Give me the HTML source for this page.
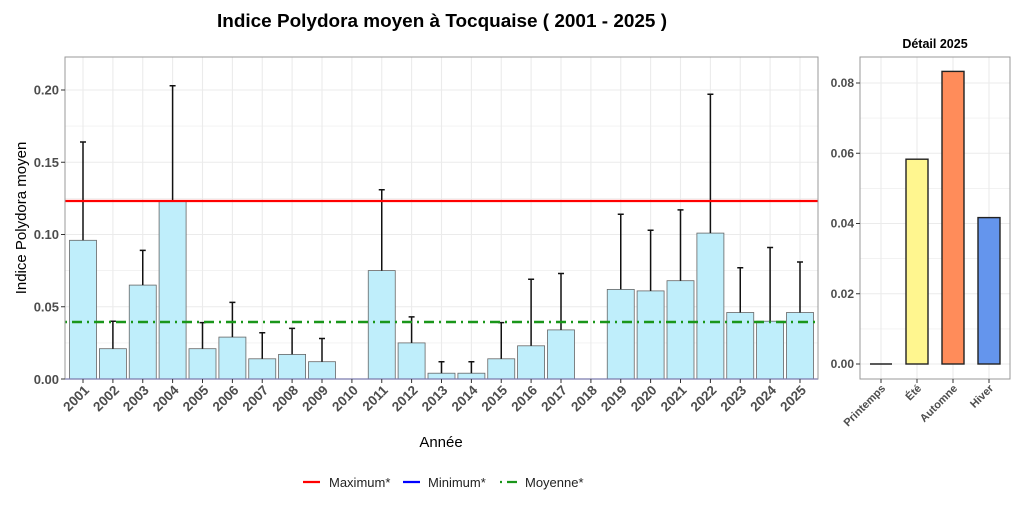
<!DOCTYPE html>
<html><head><meta charset="utf-8"><style>
body{margin:0;background:#fff;}
svg{display:block;font-family:"Liberation Sans",sans-serif;}
</style></head><body>
<svg width="1024" height="512" viewBox="0 0 1024 512" xmlns="http://www.w3.org/2000/svg">
<rect width="1024" height="512" fill="#fff"/>
<text x="442" y="27" text-anchor="middle" font-size="18" font-weight="bold" fill="#000" textLength="450" lengthAdjust="spacingAndGlyphs">Indice Polydora moyen à Tocquaise ( 2001 - 2025 )</text>

<g stroke="#ebebeb" stroke-width="0.6">
<line x1="65" x2="818" y1="342.9" y2="342.9"/><line x1="65" x2="818" y1="270.6" y2="270.6"/><line x1="65" x2="818" y1="198.4" y2="198.4"/><line x1="65" x2="818" y1="126.1" y2="126.1"/>
</g>
<g stroke="#ebebeb" stroke-width="1.1">
<line x1="65" x2="818" y1="306.75" y2="306.75"/><line x1="65" x2="818" y1="234.5" y2="234.5"/><line x1="65" x2="818" y1="162.25" y2="162.25"/><line x1="65" x2="818" y1="90" y2="90"/>
<line x1="83" x2="83" y1="57" y2="379"/><line x1="112.9" x2="112.9" y1="57" y2="379"/><line x1="142.75" x2="142.75" y1="57" y2="379"/><line x1="172.6" x2="172.6" y1="57" y2="379"/><line x1="202.5" x2="202.5" y1="57" y2="379"/><line x1="232.4" x2="232.4" y1="57" y2="379"/><line x1="262.25" x2="262.25" y1="57" y2="379"/><line x1="292.1" x2="292.1" y1="57" y2="379"/><line x1="322" x2="322" y1="57" y2="379"/><line x1="351.9" x2="351.9" y1="57" y2="379"/><line x1="381.75" x2="381.75" y1="57" y2="379"/><line x1="411.6" x2="411.6" y1="57" y2="379"/><line x1="441.5" x2="441.5" y1="57" y2="379"/><line x1="471.4" x2="471.4" y1="57" y2="379"/><line x1="501.25" x2="501.25" y1="57" y2="379"/><line x1="531.1" x2="531.1" y1="57" y2="379"/><line x1="561" x2="561" y1="57" y2="379"/><line x1="590.9" x2="590.9" y1="57" y2="379"/><line x1="620.75" x2="620.75" y1="57" y2="379"/><line x1="650.6" x2="650.6" y1="57" y2="379"/><line x1="680.5" x2="680.5" y1="57" y2="379"/><line x1="710.4" x2="710.4" y1="57" y2="379"/><line x1="740.25" x2="740.25" y1="57" y2="379"/><line x1="770.1" x2="770.1" y1="57" y2="379"/><line x1="800" x2="800" y1="57" y2="379"/>
</g>

<g fill="#bfeefb" stroke="#666" stroke-width="0.8">
<rect x="69.5" y="240.3" width="27" height="138.7"/>
<rect x="99.4" y="348.7" width="27" height="30.3"/>
<rect x="129.25" y="285.1" width="27" height="93.9"/>
<rect x="159.1" y="201.3" width="27" height="177.7"/>
<rect x="189" y="348.7" width="27" height="30.3"/>
<rect x="218.9" y="337.1" width="27" height="41.9"/>
<rect x="248.75" y="358.8" width="27" height="20.2"/>
<rect x="278.6" y="354.4" width="27" height="24.6"/>
<rect x="308.5" y="361.7" width="27" height="17.3"/>
<rect x="368.25" y="270.6" width="27" height="108.4"/>
<rect x="398.1" y="342.9" width="27" height="36.1"/>
<rect x="428" y="373.2" width="27" height="5.8"/>
<rect x="457.9" y="373.2" width="27" height="5.8"/>
<rect x="487.75" y="358.8" width="27" height="20.2"/>
<rect x="517.6" y="345.8" width="27" height="33.2"/>
<rect x="547.5" y="329.9" width="27" height="49.1"/>
<rect x="607.25" y="289.4" width="27" height="89.6"/>
<rect x="637.1" y="290.9" width="27" height="88.1"/>
<rect x="667" y="280.7" width="27" height="98.3"/>
<rect x="696.9" y="233.1" width="27" height="145.9"/>
<rect x="726.75" y="312.5" width="27" height="66.5"/>
<rect x="756.6" y="321.2" width="27" height="57.8"/>
<rect x="786.5" y="312.5" width="27" height="66.5"/>
</g>

<g stroke="#111" stroke-width="1.5" fill="none">
<path d="M83 240.3V142M80 142h6"/>
<path d="M112.9 348.7V321.2M109.9 321.2h6"/>
<path d="M142.75 285.1V250.4M139.75 250.4h6"/>
<path d="M172.6 201.3V85.7M169.6 85.7h6"/>
<path d="M202.5 348.7V322.6M199.5 322.6h6"/>
<path d="M232.4 337.1V302.4M229.4 302.4h6"/>
<path d="M262.25 358.8V332.8M259.25 332.8h6"/>
<path d="M292.1 354.4V328.4M289.1 328.4h6"/>
<path d="M322 361.7V338.5M319 338.5h6"/>
<path d="M381.75 270.6V189.7M378.75 189.7h6"/>
<path d="M411.6 342.9V316.9M408.6 316.9h6"/>
<path d="M441.5 373.2V361.7M438.5 361.7h6"/>
<path d="M471.4 373.2V361.7M468.4 361.7h6"/>
<path d="M501.25 358.8V322.6M498.25 322.6h6"/>
<path d="M531.1 345.8V279.3M528.1 279.3h6"/>
<path d="M561 329.9V273.5M558 273.5h6"/>
<path d="M620.75 289.4V214.3M617.75 214.3h6"/>
<path d="M650.6 290.9V230.2M647.6 230.2h6"/>
<path d="M680.5 280.7V209.9M677.5 209.9h6"/>
<path d="M710.4 233.1V94.3M707.4 94.3h6"/>
<path d="M740.25 312.5V267.7M737.25 267.7h6"/>
<path d="M770.1 321.2V247.5M767.1 247.5h6"/>
<path d="M800 312.5V262M797 262h6"/>
</g>

<line x1="65" x2="818" y1="201" y2="201" stroke="#ff0000" stroke-width="2.2"/>
<line x1="65" x2="818" y1="379" y2="379" stroke="#0000ff" stroke-width="1.2"/>
<line x1="65" x2="818" y1="322" y2="322" stroke="#1a961a" stroke-width="2.4" stroke-dasharray="2,5,10,5"/>

<rect x="65" y="57" width="753" height="322" fill="none" stroke="#999" stroke-width="1"/>

<g stroke="#333" stroke-width="1">
<line x1="61" x2="65" y1="379" y2="379"/><line x1="61" x2="65" y1="306.75" y2="306.75"/><line x1="61" x2="65" y1="234.5" y2="234.5"/><line x1="61" x2="65" y1="162.25" y2="162.25"/><line x1="61" x2="65" y1="90" y2="90"/>
</g>
<g font-size="13" font-weight="bold" fill="#4d4d4d" text-anchor="end">
<text x="59" y="384">0.00</text><text x="59" y="311.5">0.05</text><text x="59" y="239">0.10</text><text x="59" y="167">0.15</text><text x="59" y="94.5">0.20</text>
</g>
<text transform="translate(26,218) rotate(-90)" text-anchor="middle" font-size="15" fill="#000">Indice Polydora moyen</text>

<g stroke="#333" stroke-width="1">
<path d="M83 379v4M112.9 379v4M142.75 379v4M172.6 379v4M202.5 379v4M232.4 379v4M262.25 379v4M292.1 379v4M322 379v4M351.9 379v4M381.75 379v4M411.6 379v4M441.5 379v4M471.4 379v4M501.25 379v4M531.1 379v4M561 379v4M590.9 379v4M620.75 379v4M650.6 379v4M680.5 379v4M710.4 379v4M740.25 379v4M770.1 379v4M800 379v4"/>
</g>
<g font-size="13.5" font-weight="bold" fill="#4d4d4d" text-anchor="end">
<text transform="translate(90,391) rotate(-45)">2001</text>
<text transform="translate(119.9,391) rotate(-45)">2002</text>
<text transform="translate(149.75,391) rotate(-45)">2003</text>
<text transform="translate(179.6,391) rotate(-45)">2004</text>
<text transform="translate(209.5,391) rotate(-45)">2005</text>
<text transform="translate(239.4,391) rotate(-45)">2006</text>
<text transform="translate(269.25,391) rotate(-45)">2007</text>
<text transform="translate(299.1,391) rotate(-45)">2008</text>
<text transform="translate(329,391) rotate(-45)">2009</text>
<text transform="translate(358.9,391) rotate(-45)">2010</text>
<text transform="translate(388.75,391) rotate(-45)">2011</text>
<text transform="translate(418.6,391) rotate(-45)">2012</text>
<text transform="translate(448.5,391) rotate(-45)">2013</text>
<text transform="translate(478.4,391) rotate(-45)">2014</text>
<text transform="translate(508.25,391) rotate(-45)">2015</text>
<text transform="translate(538.1,391) rotate(-45)">2016</text>
<text transform="translate(568,391) rotate(-45)">2017</text>
<text transform="translate(597.9,391) rotate(-45)">2018</text>
<text transform="translate(627.75,391) rotate(-45)">2019</text>
<text transform="translate(657.6,391) rotate(-45)">2020</text>
<text transform="translate(687.5,391) rotate(-45)">2021</text>
<text transform="translate(717.4,391) rotate(-45)">2022</text>
<text transform="translate(747.25,391) rotate(-45)">2023</text>
<text transform="translate(777.1,391) rotate(-45)">2024</text>
<text transform="translate(807,391) rotate(-45)">2025</text>
</g>
<text x="441" y="447" text-anchor="middle" font-size="15" fill="#000">Année</text>

<line x1="303" x2="320" y1="482" y2="482" stroke="#ff0000" stroke-width="2.2"/>
<text x="329" y="487" font-size="13" fill="#222">Maximum*</text>
<line x1="403" x2="420" y1="482" y2="482" stroke="#0000ff" stroke-width="2.2"/>
<text x="428" y="487" font-size="13" fill="#222">Minimum*</text>
<line x1="500" x2="519" y1="482" y2="482" stroke="#1a961a" stroke-width="2.2" stroke-dasharray="2,5,10,5"/>
<text x="525" y="487" font-size="13" fill="#222">Moyenne*</text>

<text x="935" y="48" text-anchor="middle" font-size="12.5" font-weight="bold" fill="#000">Détail 2025</text>
<g stroke="#ebebeb" stroke-width="0.6">
<line x1="860" x2="1010" y1="328.9" y2="328.9"/><line x1="860" x2="1010" y1="258.6" y2="258.6"/><line x1="860" x2="1010" y1="188.4" y2="188.4"/><line x1="860" x2="1010" y1="118.1" y2="118.1"/>
</g>
<g stroke="#ebebeb" stroke-width="1.1">
<line x1="860" x2="1010" y1="364" y2="364"/><line x1="860" x2="1010" y1="293.75" y2="293.75"/><line x1="860" x2="1010" y1="223.5" y2="223.5"/><line x1="860" x2="1010" y1="153.25" y2="153.25"/><line x1="860" x2="1010" y1="83" y2="83"/>
<line x1="881" x2="881" y1="57" y2="379"/><line x1="917" x2="917" y1="57" y2="379"/><line x1="953" x2="953" y1="57" y2="379"/><line x1="989" x2="989" y1="57" y2="379"/>
</g>
<line x1="870" x2="892" y1="364" y2="364" stroke="#222" stroke-width="1.4"/>
<g stroke="#222" stroke-width="1.4">
<rect x="906" y="159.2" width="22" height="204.8" fill="#fff68f"/>
<rect x="942" y="71.4" width="22" height="292.6" fill="#ff8c5a"/>
<rect x="978" y="217.6" width="22" height="146.4" fill="#6495ed"/>
</g>
<rect x="860" y="57" width="150" height="322" fill="none" stroke="#999" stroke-width="1"/>
<g stroke="#333" stroke-width="1">
<path d="M856 364h4M856 293.75h4M856 223.5h4M856 153.25h4M856 83h4M881 379v4M917 379v4M953 379v4M989 379v4"/>
</g>
<g font-size="12" font-weight="bold" fill="#4d4d4d" text-anchor="end">
<text x="854" y="368">0.00</text><text x="854" y="298">0.02</text><text x="854" y="227.5">0.04</text><text x="854" y="157.5">0.06</text><text x="854" y="87">0.08</text>
</g>
<g font-size="11" font-weight="bold" fill="#4d4d4d" text-anchor="end">
<text transform="translate(886,389) rotate(-45)">Printemps</text>
<text transform="translate(922,389) rotate(-45)">Été</text>
<text transform="translate(958,389) rotate(-45)">Automne</text>
<text transform="translate(994,389) rotate(-45)">Hiver</text>
</g>
</svg>
</body></html>
